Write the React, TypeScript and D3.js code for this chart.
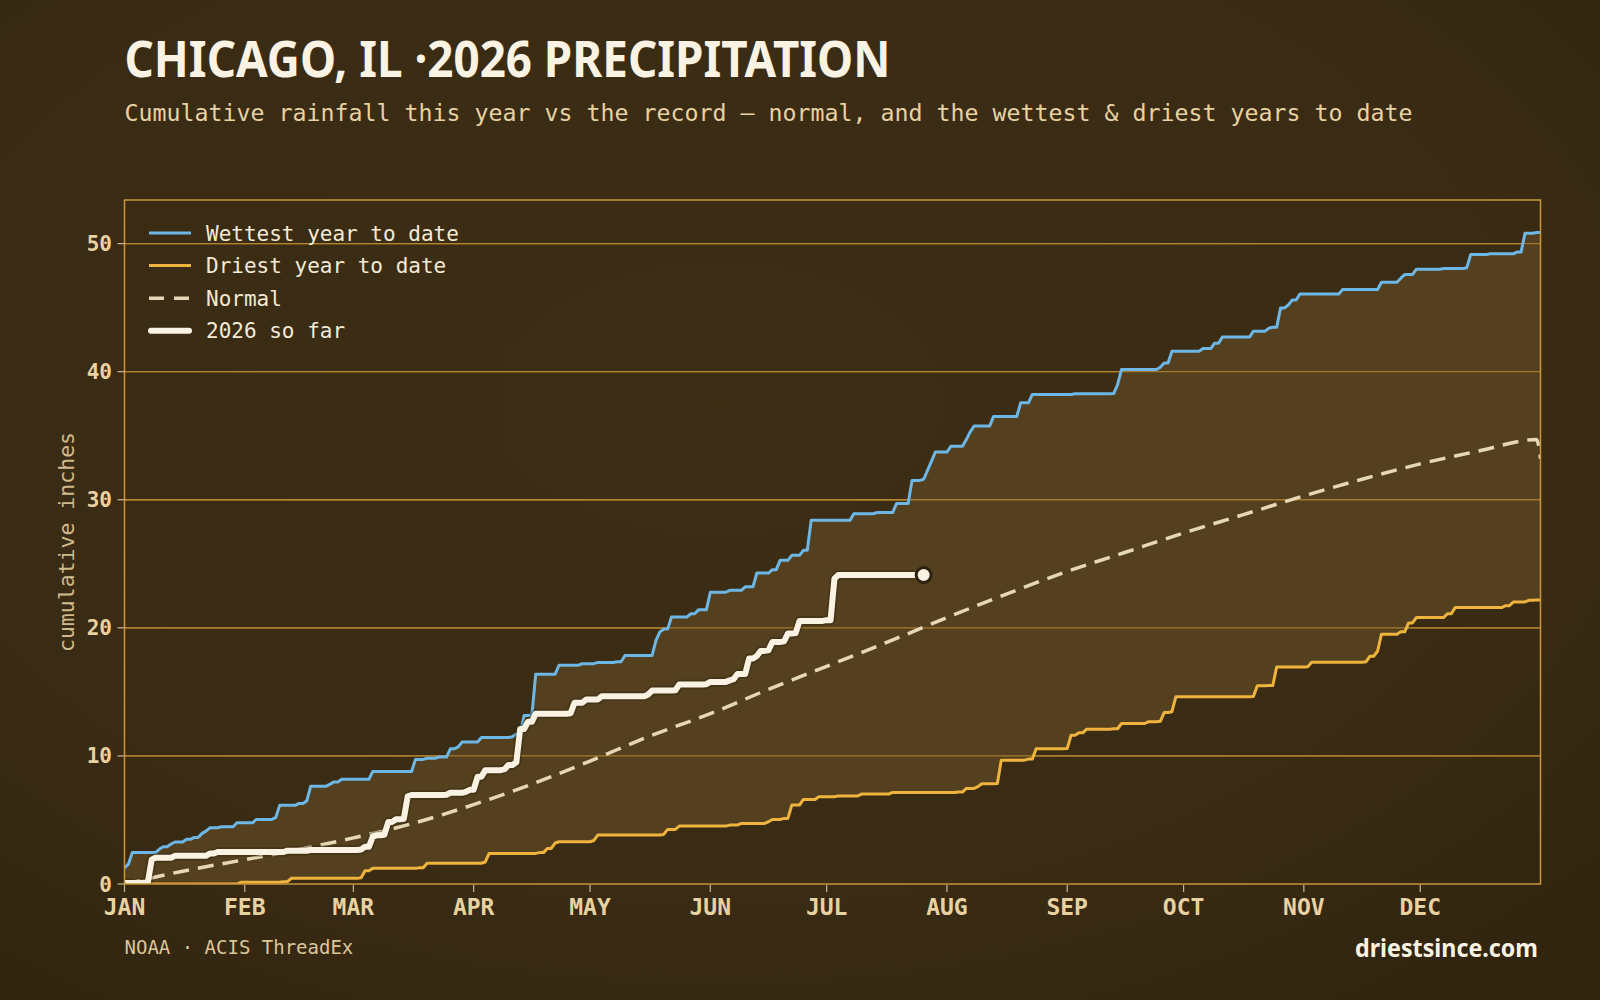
import React, { useEffect, useRef } from "react";
import * as d3 from "d3";

// Layout
const W = 1600,
  H = 1000;
const margin = { top: 200, right: 59.5, bottom: 116, left: 124.5 };
const plotW = W - margin.left - margin.right;
const plotH = H - margin.top - margin.bottom;

const YEAR_START = new Date(Date.UTC(2026, 0, 1));
const YEAR_END = new Date(Date.UTC(2027, 0, 1));
const LAST_DAY = 365;

const title = "CHICAGO, IL ·2026 PRECIPITATION";
const subtitle =
  "Cumulative rainfall this year vs the record — normal, and the wettest & driest years to date";
const yLabel = "cumulative inches";
const sourceText = "NOAA · ACIS ThreadEx";
const brandText = "driestsince.com";

const legendLabels = ["Wettest year to date", "Driest year to date", "Normal", "2026 so far"];
const yTickValues = [0, 10, 20, 30, 40, 50];

// [day of year (0 = Jan 1), cumulative inches] where the running total changes
const wettestSteps = [
  [0, 1.25], [1, 1.55], [2, 2.45], [9, 2.73], [10, 2.91], [12, 3.12], [13, 3.28], [16, 3.49],
  [18, 3.64], [20, 3.95], [21, 4.13], [22, 4.39], [25, 4.47], [29, 4.78], [34, 5.04], [39, 5.2],
  [40, 6.14], [45, 6.29], [47, 6.5], [48, 7.64], [53, 7.8], [54, 7.97], [56, 8.17], [64, 8.79],
  [75, 9.73], [78, 9.82], [81, 9.91], [84, 10.55], [86, 10.7], [87, 11.08], [92, 11.44], [100, 11.5],
  [101, 11.72], [103, 13.15], [106, 16.38], [112, 17.08], [118, 17.2], [122, 17.3], [127, 17.35],
  [129, 17.84], [137, 19.03], [138, 19.68], [139, 19.9], [141, 20.85], [146, 21.1], [148, 21.42],
  [151, 22.78], [156, 22.93], [160, 23.2], [163, 24.28], [167, 24.54], [169, 25.27], [172, 25.66],
  [175, 26.05], [177, 28.39], [188, 28.91], [194, 29.0], [199, 29.7], [203, 31.51], [206, 31.6],
  [207, 32.3], [208, 33.0], [209, 33.72], [213, 34.17], [217, 34.7], [218, 35.3], [219, 35.75],
  [224, 36.5], [231, 37.57], [234, 38.22], [245, 38.27], [255, 38.3], [256, 39.0], [257, 40.17],
  [267, 40.35], [268, 40.67], [270, 41.6], [278, 41.8], [281, 42.22], [283, 42.7], [291, 43.16],
  [295, 43.4], [296, 43.47], [298, 44.98], [300, 45.2], [301, 45.6], [303, 46.07], [314, 46.41],
  [324, 46.98], [329, 47.3], [330, 47.58], [333, 48.0], [340, 48.05], [346, 48.12], [347, 49.14],
  [352, 49.2], [359, 49.35], [361, 50.8], [364, 50.86],
];

const driestSteps = [
  [0, 0], [30, 0.13], [41, 0.18], [43, 0.44], [61, 0.49], [62, 1.04], [64, 1.22], [76, 1.27],
  [78, 1.62], [93, 1.72], [94, 2.39], [107, 2.45], [109, 2.78], [111, 3.2], [112, 3.3], [121, 3.4],
  [122, 3.82], [139, 3.87], [140, 4.26], [143, 4.52], [156, 4.6], [159, 4.73], [166, 4.86],
  [167, 5.04], [170, 5.12], [172, 6.16], [175, 6.6], [179, 6.81], [184, 6.88], [190, 7.02],
  [198, 7.15], [215, 7.18], [217, 7.46], [220, 7.6], [221, 7.83], [225, 7.85], [226, 9.67],
  [233, 9.75], [235, 10.56], [243, 10.58], [244, 11.62], [246, 11.8], [248, 12.09], [255, 12.12],
  [257, 12.53], [264, 12.67], [267, 12.7], [268, 13.39], [270, 13.45], [271, 14.61], [291, 14.63],
  [292, 15.47], [295, 15.5], [297, 16.95], [305, 16.97], [306, 17.32], [320, 17.35], [321, 17.78],
  [323, 18.17], [324, 19.5], [329, 19.69], [331, 20.38], [333, 20.8], [341, 21.1], [343, 21.58],
  [356, 21.73], [358, 22.02], [362, 22.15], [364, 22.18],
];

const thisYearSteps = [
  [0, 0.08], [5, 0.1], [7, 1.9], [8, 2.05], [13, 2.2], [22, 2.38], [24, 2.5], [42, 2.6], [48, 2.65],
  [61, 2.7], [62, 2.9], [64, 3.7], [65, 3.8], [67, 3.85], [68, 4.85], [70, 5.06], [72, 5.1],
  [73, 6.85], [74, 6.95], [83, 6.97], [84, 7.12], [88, 7.2], [89, 7.35], [91, 8.37], [93, 8.89],
  [98, 8.97], [99, 9.3], [101, 9.5], [102, 12.1], [104, 12.66], [106, 13.3], [115, 13.33],
  [116, 14.15], [119, 14.4], [123, 14.66], [135, 14.8], [136, 15.1], [142, 15.13], [143, 15.57],
  [150, 15.6], [151, 15.78], [156, 15.9], [157, 16.0], [158, 16.4], [161, 17.6], [163, 17.8],
  [164, 18.2], [166, 18.25], [167, 18.9], [170, 18.95], [171, 19.55], [173, 19.6], [174, 20.54],
  [181, 20.6], [183, 23.84], [184, 24.12],
];
const thisYearLastDay = 206;

// normal cumulative, read every ~half month
const normalPoints = [
  [0, 0], [15, 1.0], [31, 1.9], [45, 2.7], [59, 3.6], [74, 4.7], [90, 6.2], [105, 7.8],
  [120, 9.6], [135, 11.5], [151, 13.3], [166, 15.2], [181, 17.0], [196, 18.8], [212, 20.8],
  [227, 22.6], [243, 24.4], [258, 25.9], [273, 27.4], [288, 28.8], [304, 30.3], [319, 31.6],
  [334, 32.8], [349, 33.8], [364, 34.7], [365, 33.2],
];

const colors = {
  bg: "#3a2b14",
  band: "#54401e",
  grid: "#b4842f",
  border: "#c9953d",
  wettest: "#6db7e6",
  driest: "#efb43e",
  normal: "#e6d7b6",
  thisYear: "#faf3e3",
  text: "#faf3e3",
  muted: "#e8d2a2",
};

// carry each total forward day by day
function daily(steps, lastDay) {
  const out = [];
  let i = 0;
  let v = steps[0][1];
  for (let d = 0; d <= lastDay; d++) {
    while (i < steps.length && steps[i][0] <= d) {
      v = steps[i][1];
      i++;
    }
    out.push({ day: d, value: v });
  }
  return out;
}

export default function App() {
  const svgRef = useRef(null);

  useEffect(() => {
    document.body.style.margin = "0";
    document.body.style.background = colors.bg;

    const svg = d3.select(svgRef.current).attr("width", W).attr("height", H);
    svg.selectAll("*").remove();

    const wettest = daily(wettestSteps, LAST_DAY);
    const driest = daily(driestSteps, LAST_DAY);
    const thisYear = daily(thisYearSteps, thisYearLastDay);
    const normal = normalPoints.map(([day, value]) => ({ day, value }));

    const band = wettest.map((d, i) => ({ day: d.day, hi: d.value, lo: driest[i].value }));

    const x = d3.scaleUtc().domain([YEAR_START, YEAR_END]).range([margin.left, margin.left + plotW]);
    const xd = (day) => x(d3.utcDay.offset(YEAR_START, day));
    const y = d3
      .scaleLinear()
      .domain([0, d3.max(wettest, (d) => d.value) * 1.05])
      .range([margin.top + plotH, margin.top]);

    const defs = svg.append("defs");
    const grad = defs
      .append("radialGradient")
      .attr("id", "vignette")
      .attr("cx", "45%")
      .attr("cy", "40%")
      .attr("r", "75%");
    grad.append("stop").attr("offset", "0%").attr("stop-color", "#3c2d15");
    grad.append("stop").attr("offset", "65%").attr("stop-color", "#3a2b14");
    grad.append("stop").attr("offset", "100%").attr("stop-color", "#31250f");

    defs
      .append("clipPath")
      .attr("id", "plotClip")
      .append("rect")
      .attr("x", margin.left)
      .attr("y", margin.top)
      .attr("width", plotW)
      .attr("height", plotH);

    svg.append("rect").attr("width", W).attr("height", H).attr("fill", "url(#vignette)");

    // gridlines
    svg
      .append("g")
      .selectAll("line")
      .data(yTickValues.filter((v) => v > 0))
      .join("line")
      .attr("x1", margin.left)
      .attr("x2", margin.left + plotW)
      .attr("y1", (d) => y(d))
      .attr("y2", (d) => y(d))
      .attr("stroke", colors.grid)
      .attr("stroke-width", 1.4);

    const plot = svg.append("g").attr("clip-path", "url(#plotClip)");

    // record band
    plot
      .append("path")
      .datum(band)
      .attr(
        "d",
        d3
          .area()
          .x((d) => xd(d.day))
          .y0((d) => y(d.lo))
          .y1((d) => y(d.hi))
      )
      .attr("fill", colors.band);

    // gridlines again over the band
    plot
      .append("g")
      .selectAll("line")
      .data(yTickValues.filter((v) => v > 0))
      .join("line")
      .attr("x1", margin.left)
      .attr("x2", margin.left + plotW)
      .attr("y1", (d) => y(d))
      .attr("y2", (d) => y(d))
      .attr("stroke", colors.grid)
      .attr("stroke-width", 1.4)
      .attr("opacity", 0.85);

    const stepLine = d3
      .line()
      .x((d) => xd(d.day))
      .y((d) => y(d.value));

    plot
      .append("path")
      .datum(normal)
      .attr(
        "d",
        d3
          .line()
          .x((d) => xd(d.day))
          .y((d) => y(d.value))
          .curve(d3.curveMonotoneX)
      )
      .attr("fill", "none")
      .attr("stroke", colors.normal)
      .attr("stroke-width", 3.5)
      .attr("stroke-dasharray", "16,9");

    plot
      .append("path")
      .datum(driest)
      .attr("d", stepLine)
      .attr("fill", "none")
      .attr("stroke", colors.driest)
      .attr("stroke-width", 3)
      .attr("stroke-linejoin", "round");

    plot
      .append("path")
      .datum(wettest)
      .attr("d", stepLine)
      .attr("fill", "none")
      .attr("stroke", colors.wettest)
      .attr("stroke-width", 3)
      .attr("stroke-linejoin", "round");

    // 2026 so far, with a soft dark halo
    plot
      .append("path")
      .datum(thisYear)
      .attr("d", stepLine)
      .attr("fill", "none")
      .attr("stroke", "#2a1f0c")
      .attr("stroke-opacity", 0.35)
      .attr("stroke-width", 9.5)
      .attr("stroke-linejoin", "round");
    plot
      .append("path")
      .datum(thisYear)
      .attr("d", stepLine)
      .attr("fill", "none")
      .attr("stroke", colors.thisYear)
      .attr("stroke-width", 6)
      .attr("stroke-linejoin", "round")
      .attr("stroke-linecap", "round");

    const last = thisYear[thisYear.length - 1];
    svg
      .append("circle")
      .attr("cx", xd(last.day))
      .attr("cy", y(last.value))
      .attr("r", 7.5)
      .attr("fill", colors.thisYear)
      .attr("stroke", "#2d220f")
      .attr("stroke-width", 3);

    // frame
    svg
      .append("rect")
      .attr("x", margin.left)
      .attr("y", margin.top)
      .attr("width", plotW)
      .attr("height", plotH)
      .attr("fill", "none")
      .attr("stroke", colors.border)
      .attr("stroke-width", 1.5);

    // x axis
    const months = x.ticks(d3.utcMonth.every(1)).filter((d) => d < YEAR_END);
    const xAxis = svg.append("g");
    xAxis
      .selectAll("line")
      .data(months)
      .join("line")
      .attr("x1", (d) => x(d))
      .attr("x2", (d) => x(d))
      .attr("y1", margin.top + plotH + 1)
      .attr("y2", margin.top + plotH + 8)
      .attr("stroke", "#cdb88c")
      .attr("stroke-width", 1.2);
    xAxis
      .selectAll("text")
      .data(months)
      .join("text")
      .attr("x", (d) => x(d))
      .attr("y", 915)
      .attr("text-anchor", "middle")
      .attr("font-family", "'DejaVu Sans Mono', monospace")
      .attr("font-weight", 700)
      .attr("font-size", 23)
      .attr("fill", colors.muted)
      .text((d) => d3.utcFormat("%b")(d).toUpperCase());

    // y axis
    const yAxis = svg.append("g");
    yAxis
      .selectAll("line")
      .data(yTickValues)
      .join("line")
      .attr("x1", margin.left - 7)
      .attr("x2", margin.left)
      .attr("y1", (d) => y(d))
      .attr("y2", (d) => y(d))
      .attr("stroke", "#cdb88c")
      .attr("stroke-width", 1.2);
    yAxis
      .selectAll("text")
      .data(yTickValues)
      .join("text")
      .attr("x", 112)
      .attr("y", (d) => y(d) + 7.5)
      .attr("text-anchor", "end")
      .attr("font-family", "'DejaVu Sans Mono', monospace")
      .attr("font-weight", 700)
      .attr("font-size", 21)
      .attr("fill", colors.muted)
      .text((d) => d);

    svg
      .append("text")
      .attr("transform", `translate(74, ${margin.top + plotH / 2}) rotate(-90)`)
      .attr("text-anchor", "middle")
      .attr("font-family", "'DejaVu Sans Mono', monospace")
      .attr("font-size", 21.5)
      .attr("fill", "#cfb98d")
      .text(yLabel);

    // legend
    const legend = svg.append("g").attr("transform", "translate(149, 233)");
    const swatches = [
      { color: colors.wettest, width: 3, dash: null, cap: "butt" },
      { color: colors.driest, width: 3, dash: null, cap: "butt" },
      { color: colors.normal, width: 3.5, dash: "15,10", cap: "butt" },
      { color: colors.thisYear, width: 6, dash: null, cap: "round" },
    ];
    legendLabels.forEach((label, i) => {
      const row = legend.append("g").attr("transform", `translate(0, ${i * 32.6})`);
      const s = swatches[i];
      row
        .append("line")
        .attr("x1", s.cap === "round" ? 2 : 0)
        .attr("x2", s.cap === "round" ? 40 : 42)
        .attr("stroke", s.color)
        .attr("stroke-width", s.width)
        .attr("stroke-linecap", s.cap)
        .attr("stroke-dasharray", s.dash);
      row
        .append("text")
        .attr("x", 57)
        .attr("y", 7.5)
        .attr("font-family", "'DejaVu Sans Mono', monospace")
        .attr("font-size", 21)
        .attr("fill", "#f3ead6")
        .text(label);
    });

    // titles
    svg
      .append("text")
      .attr("x", 124.5)
      .attr("y", 76.5)
      .attr("font-family", "'Noto Sans', 'Open Sans', sans-serif")
      .attr("font-weight", 700)
      .attr("font-size", 50)
      .attr("textLength", 766)
      .attr("lengthAdjust", "spacingAndGlyphs")
      .attr("fill", colors.text)
      .text(title);

    svg
      .append("text")
      .attr("x", 124.5)
      .attr("y", 121)
      .attr("font-family", "'DejaVu Sans Mono', monospace")
      .attr("font-size", 23)
      .attr("textLength", 1288)
      .attr("lengthAdjust", "spacingAndGlyphs")
      .attr("fill", colors.muted)
      .text(subtitle);

    // footer
    svg
      .append("text")
      .attr("x", 124.5)
      .attr("y", 954)
      .attr("font-family", "'DejaVu Sans Mono', monospace")
      .attr("font-size", 19)
      .attr("fill", "#dcc69a")
      .text(sourceText);

    svg
      .append("text")
      .attr("x", 1538)
      .attr("y", 957)
      .attr("text-anchor", "end")
      .attr("font-family", "'Noto Sans', 'Open Sans', sans-serif")
      .attr("font-weight", 700)
      .attr("font-size", 25)
      .attr("textLength", 183)
      .attr("lengthAdjust", "spacingAndGlyphs")
      .attr("fill", colors.text)
      .text(brandText);

    return () => {
      svg.selectAll("*").remove();
    };
  }, []);

  return (
    <div style={{ position: "absolute", left: 0, top: 0, width: W, height: H }}>
      <svg ref={svgRef} style={{ display: "block" }} />
    </div>
  );
}
